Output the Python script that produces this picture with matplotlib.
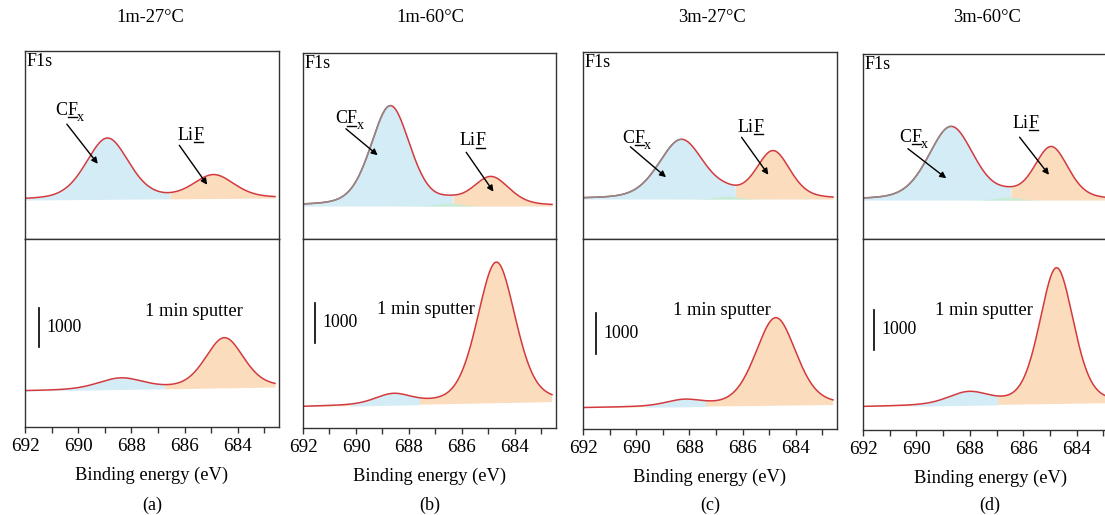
import numpy as np
import matplotlib
matplotlib.use('Agg')
import matplotlib.pyplot as plt
from matplotlib.lines import Line2D
from matplotlib.ticker import MultipleLocator

plt.rcParams['font.family'] = ['Liberation Serif', 'DejaVu Serif']

titles = ['1m-27°C', '1m-60°C', '3m-27°C', '3m-60°C']
letters = ['(a)', '(b)', '(c)', '(d)']

# surface spectra (upper panels): background at 692 / 682.45 eV and fitted peaks
top_bg = [(975, 1025), (825, 825), (1000, 1000), (975, 975)]
top_cfx_pos = [688.9, 688.7, 688.3, 688.7]
top_cfx_height = [1525, 2500, 1475, 1825]
top_cfx_fwhm = [1.9, 1.75, 2.0, 2.0]
top_lif_pos = [684.9, 684.9, 684.85, 684.95]
top_lif_height = [575, 700, 1175, 1300]
top_lif_fwhm = [1.8, 1.6, 1.5, 1.5]
top_mid_pos = [686.6, 686.5, 686.6, 686.6]
top_mid_height = [0, 75, 75, 75]
top_gray_from = [None, 688.7, 688.3, 688.7]   # raw data shows grey on the high-BE flank

# after 1 min sputter (lower panels)
bot_bg = [(900, 1000), (525, 650), (525, 600), (575, 675)]
bot_cfx_pos = [688.4, 688.6, 688.2, 688.05]
bot_cfx_height = [275, 250, 150, 300]
bot_cfx_fwhm = [2.0, 1.6, 1.6, 1.8]
bot_lif_pos = [684.5, 684.7, 684.75, 684.75]
bot_lif_height = [1250, 3525, 2200, 3400]
bot_lif_fwhm = [1.7, 1.7, 1.8, 1.5]

# label / arrow positions (energy, counts)
cfx_text = [(690.87, 3100), (690.8, 2900), (690.53, 2400), (690.65, 2425)]
cfx_arrow = [((690.49, 2925), (689.2, 1825)), ((690.46, 2800), (689.1, 2050)),
             ((690.3, 2350), (688.8, 1500)), ((690.4, 2300), (688.8, 1475))]
lif_text = [(686.26, 2475), (686.1, 2350), (686.2, 2675), (686.4, 2775)]
lif_arrow = [((686.26, 2400), (685.09, 1300)), ((685.9, 2225), (684.75, 1125)),
             ((686.1, 2600), (684.97, 1550)), ((686.2, 2600), (684.97, 1550))]
sputter_text = [(687.5, 2900), (689.2, 2950), (688.6, 2950), (689.3, 2975)]
bar_x = [691.47, 691.55, 691.5, 691.6]
bar_y = [(2000, 2975), (2125, 3125), (1875, 2900), (2000, 3000)]

lefts = [25, 303, 583, 863]
widths = [254, 253, 254, 255]
tops = [51, 53, 52, 54]
mid = 239
bottoms = [427, 428, 429, 430]
title_x = [150, 430, 712, 987]

W, H = 1105, 515
blue = '#d4ecf6'
orange = '#fbdcbd'
green = '#c6ecd6'
red = '#d23a3f'
grey = '#8c8c8c'


def pv(x, c, h, w, eta=0.3):
    s = w / 2.3548
    g = np.exp(-0.5 * ((x - c) / s) ** 2)
    l = 1 / (1 + ((x - c) / (w / 2)) ** 2)
    return h * ((1 - eta) * g + eta * l)


fig = plt.figure(figsize=(W / 100, H / 100), dpi=100)
renderer = fig.canvas.get_renderer()


def label(ax, x, y, parts, fs=13):
    # parts: (text, underline, subscript); drawn one after another on one baseline
    ox = 0.0
    for txt, ul, sub in parts:
        size = fs * 0.78 if sub else fs
        dy = -fs * 0.32 if sub else 0
        t = ax.annotate(txt, xy=(x, y), xytext=(ox, dy), textcoords='offset points',
                        fontsize=size, ha='left', va='baseline')
        bb = t.get_window_extent(renderer)
        if ul:
            yb = ax.transData.transform((x, y))[1] - 2.5
            fig.add_artist(Line2D([bb.x0 + 0.5, bb.x1 - 0.5], [yb, yb], transform=None,
                                  color='black', lw=1.0))
        ox += bb.width * 72 / fig.dpi


E = np.linspace(692.1, 682.6, 600)

for i in range(4):
    l = lefts[i] / W
    w = widths[i] / W
    axt = fig.add_axes([l, 1 - mid / H, w, (mid - tops[i]) / H])
    axb = fig.add_axes([l, 1 - bottoms[i] / H, w, (bottoms[i] - mid) / H])

    for ax, bg, cp, ch, cw, lp, lh, lw, mh, mp, gf in [
        (axt, top_bg[i], top_cfx_pos[i], top_cfx_height[i], top_cfx_fwhm[i],
         top_lif_pos[i], top_lif_height[i], top_lif_fwhm[i], top_mid_height[i],
         top_mid_pos[i], top_gray_from[i]),
        (axb, bot_bg[i], bot_cfx_pos[i], bot_cfx_height[i], bot_cfx_fwhm[i],
         bot_lif_pos[i], bot_lif_height[i], bot_lif_fwhm[i], 0, 686.6, None)]:
        base = bg[0] + (bg[1] - bg[0]) * (692 - E) / (692 - 682.45)
        cfx = pv(E, cp, ch, cw)
        lif = pv(E, lp, lh, lw)
        md = pv(E, mp, mh, 1.0)
        env = base + cfx + lif + md
        ax.fill_between(E, base, env, where=cfx >= lif, color=blue, lw=0, interpolate=True)
        ax.fill_between(E, base, env, where=lif >= cfx, color=orange, lw=0, interpolate=True)
        ax.fill_between(E, base, base + md, color=green, lw=0)
        ax.plot(E, env, color=red, lw=1.1)
        if gf is not None:
            m = E >= gf
            ax.plot(E[m], env[m], color=grey, lw=1.1)
        ax.set_xlim(692, 682.45)
        ax.set_yticks([])
        for s in ax.spines.values():
            s.set_color('#333333')
            s.set_linewidth(1.0)

    axt.set_ylim(0, (mid - tops[i]) * 25)
    axb.set_ylim(0, (bottoms[i] - mid) * 25)
    axt.set_xticks([])

    axb.xaxis.set_major_locator(MultipleLocator(2))
    axb.xaxis.set_minor_locator(MultipleLocator(1))
    axb.tick_params(axis='x', which='both', direction='out', length=4, width=1,
                    labelsize=13.8, pad=4, color='#333333')
    axb.set_xlabel('Binding energy (eV)', fontsize=13.3, labelpad=8)

    axt.text(0.006, 0.99, 'F1s', transform=axt.transAxes, ha='left', va='top', fontsize=13)
    label(axt, *cfx_text[i], [('C', False, False), ('F', True, False), ('x', False, True)])
    label(axt, *lif_text[i], [('Li', False, False), ('F', True, False)])
    axt.annotate('', xy=cfx_arrow[i][1], xytext=cfx_arrow[i][0],
                 arrowprops=dict(arrowstyle='-|>', color='black', lw=1.0, mutation_scale=9))
    axt.annotate('', xy=lif_arrow[i][1], xytext=lif_arrow[i][0],
                 arrowprops=dict(arrowstyle='-|>', color='black', lw=1.0, mutation_scale=9))

    axb.text(*sputter_text[i], '1 min sputter', fontsize=13.3, ha='left', va='center')
    axb.plot([bar_x[i], bar_x[i]], bar_y[i], color='black', lw=1.2)
    axb.text(bar_x[i] - 0.28, (bar_y[i][0] + bar_y[i][1]) / 2, '1000',
             fontsize=12.8, ha='left', va='center')

    fig.text(title_x[i] / W, 1 - 17 / H, titles[i], ha='center', va='center', fontsize=13.3)
    fig.text((lefts[i] + 127) / W, 1 - 505 / H, letters[i], ha='center', va='center', fontsize=13)

fig.savefig('out.png', dpi=100)
